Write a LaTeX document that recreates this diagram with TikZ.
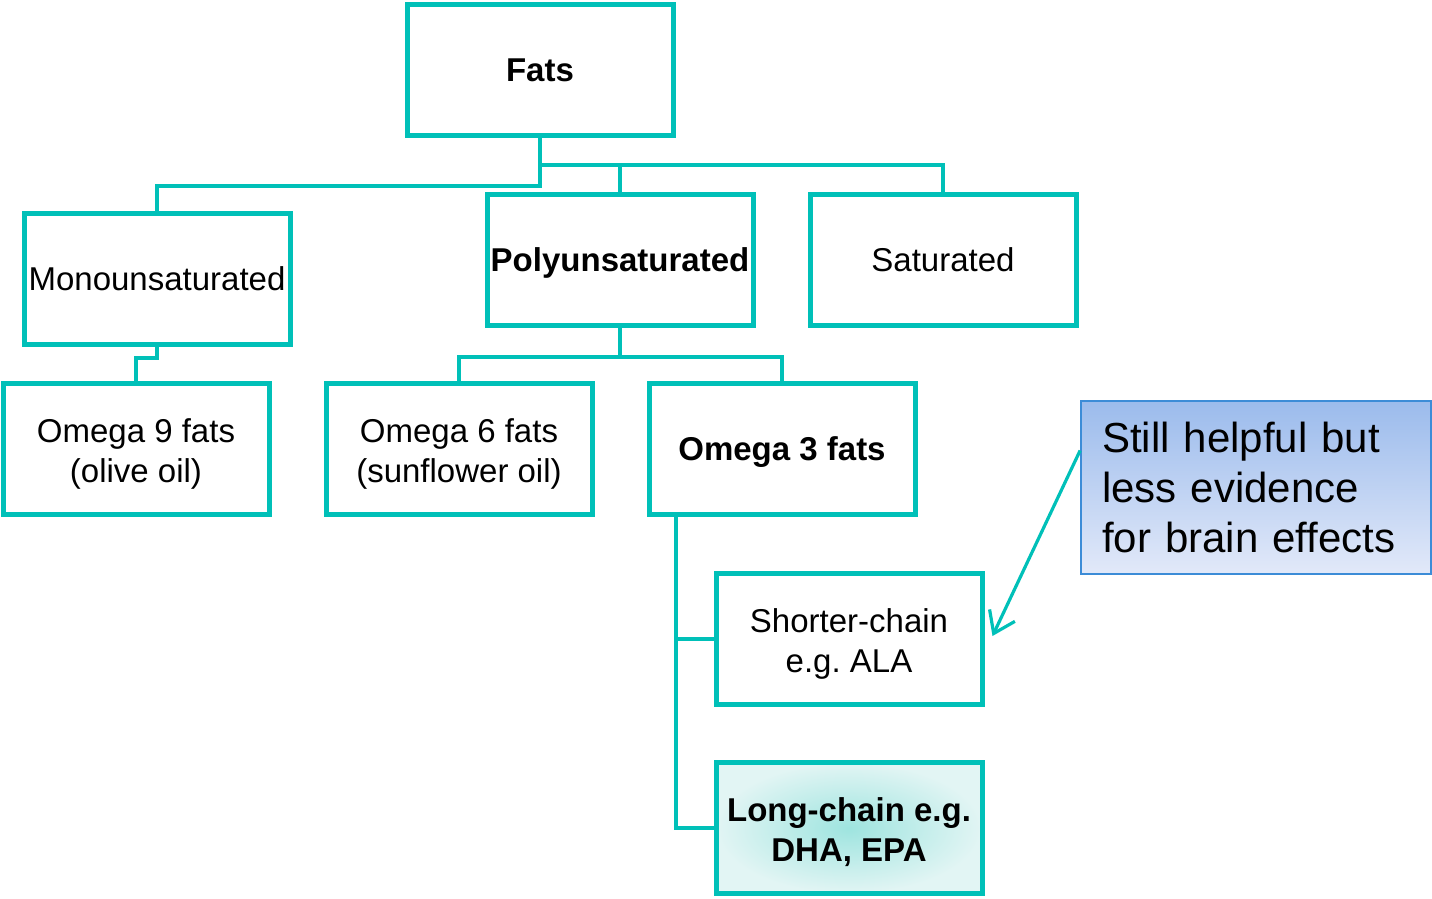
\documentclass[tikz,border=0pt]{standalone}
\usepackage{fontspec}
\setmainfont{Liberation Sans}
\usetikzlibrary{arrows.meta,shadings}
\definecolor{teal1}{RGB}{0,192,184}
\definecolor{calltop}{RGB}{155,187,236}
\definecolor{callbot}{RGB}{226,233,249}
\definecolor{callbd}{RGB}{60,140,215}
\definecolor{lcin}{RGB}{158,228,223}
\definecolor{lcout}{RGB}{226,245,244}
\frenchspacing
\begin{document}
\begin{tikzpicture}[x=1pt,y=-1pt,
  fbox/.style={draw=teal1,line width=5pt,minimum width=266pt,minimum height=131pt,
    inner sep=0pt,text depth=0pt,align=center,font=\fontsize{33}{39.5}\selectfont},
  conn/.style={draw=teal1,line width=4.5pt,line join=miter},
  arr/.style={draw=teal1,line width=3.2pt,-{Straight Barb[length=20pt,width=28pt,line width=3.2pt]}}]
\useasboundingbox (0,0) rectangle (1432,898);
\node[fbox,font=\fontsize{33}{39.5}\selectfont\bfseries] (fats) at (540,70) {Fats};
\node[fbox] (mono) at (157,279) {Monounsaturated};
\node[fbox,font=\fontsize{33}{39.5}\selectfont\bfseries] (poly) at (620,260) {Polyunsaturated};
\node[fbox] (sat) at (943,260) {Saturated};
\node[fbox] (o9) at (136,449) {\rule{0pt}{27pt}Omega 9 fats\\(olive oil)};
\node[fbox] (o6) at (459,449) {\rule{0pt}{27pt}Omega 6 fats\\(sunflower oil)};
\node[fbox,font=\fontsize{33}{39.5}\selectfont\bfseries] (o3) at (782,449) {Omega 3 fats};
\node[fbox] (short) at (849,639) {\rule{0pt}{27pt}Shorter-chain\\e.g. ALA};
\node[fbox,inner color=lcin,outer color=lcout,font=\fontsize{33}{39.5}\selectfont\bfseries] (long) at (849,828) {\rule{0pt}{27pt}Long-chain e.g.\\DHA, EPA};
\node[draw=callbd,line width=1.8pt,top color=calltop,bottom color=callbot,
  minimum width=350pt,minimum height=173pt,text width=308pt,inner sep=0pt,align=left,
  font=\fontsize{42}{50}\selectfont] (call) at (1256,487.5) {Still helpful but\\less evidence\\for brain effects};
% connectors
\coordinate (j1) at (540,165);
\coordinate (j3) at (676,0);
\draw[conn] (fats.south) -- ++(0,48) -| (mono.north);
\draw[conn] (j1) -| (sat.north);
\draw[conn] (j1 -| poly.north) -- (poly.north);
\draw[conn] (mono.south) -- ++(0,11) -| (o9.north);
\draw[conn] (poly.south) -- ++(0,29) coordinate (jp) -| (o3.north);
\draw[conn] (jp) -| (o6.north);
\draw[conn] (o3.south -| j3) |- (long.west);
\draw[conn] (short.west) -- (short.west -| j3);
\draw[arr] ([yshift=37pt]call.west) -- ([xshift=8pt,yshift=3pt]short.east);
\end{tikzpicture}
\end{document}
